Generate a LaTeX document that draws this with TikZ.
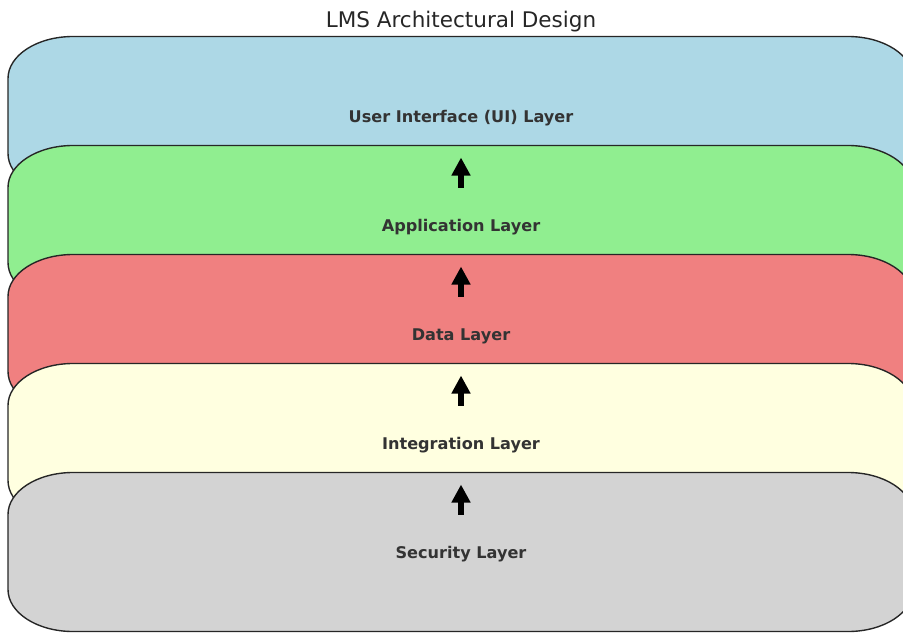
\documentclass[tikz,border=0pt]{standalone}
\usepackage{fontspec}
\setmainfont{DejaVu Sans}
\usetikzlibrary{arrows.meta}

\definecolor{uiblue}{RGB}{173,216,230}
\definecolor{appgreen}{RGB}{144,238,144}
\definecolor{datared}{RGB}{240,128,128}
\definecolor{integyellow}{RGB}{255,255,224}
\definecolor{secgray}{RGB}{211,211,211}
\definecolor{labelgray}{RGB}{51,51,51}

\begin{document}
\begin{tikzpicture}[x=0.72pt,y=0.72pt,
    layer/.style={draw=black!85,line width=1pt},
    layerlabel/.style={font=\fontsize{11.6}{14}\selectfont\bfseries,text=labelgray},
    uparrow/.style={line width=5pt,-{Triangle[length=13pt,width=13pt]},
        shorten <=28.8pt,shorten >=28.1pt}]
    \clip (0,0) rectangle (903,-632);
    \node(title) at (461,-21.5) {\fontsize{15.5}{18}\selectfont\color{black!85}LMS Architectural Design};
    % stacked layers, each one laid over the one above
    \foreach \name/\col/\txt [count=\i from 0] in {
        ui/uiblue/{User Interface (UI) Layer},
        app/appgreen/{Application Layer},
        data/datared/{Data Layer},
        integ/integyellow/{Integration Layer},
        sec/secgray/{Security Layer}}{
        \pgfmathsetmacro\top{36.5+109*\i}
        \filldraw[layer,fill=\col] (8,-\top) ++(65,0) -- ++(775,0)
            arc[start angle=90,end angle=0,x radius=65,y radius=42] -- ++(0,-75)
            arc[start angle=0,end angle=-90,x radius=65,y radius=42] -- ++(-775,0)
            arc[start angle=270,end angle=180,x radius=65,y radius=42] -- ++(0,75)
            arc[start angle=180,end angle=90,x radius=65,y radius=42] -- cycle;
        \node[layerlabel](\name) at (461,-\top-82) {\txt};
    }
    \foreach \a/\b in {app/ui,data/app,integ/data,sec/integ}
        \draw[uparrow] (\a.center) -- (\b.center);
\end{tikzpicture}
\end{document}
